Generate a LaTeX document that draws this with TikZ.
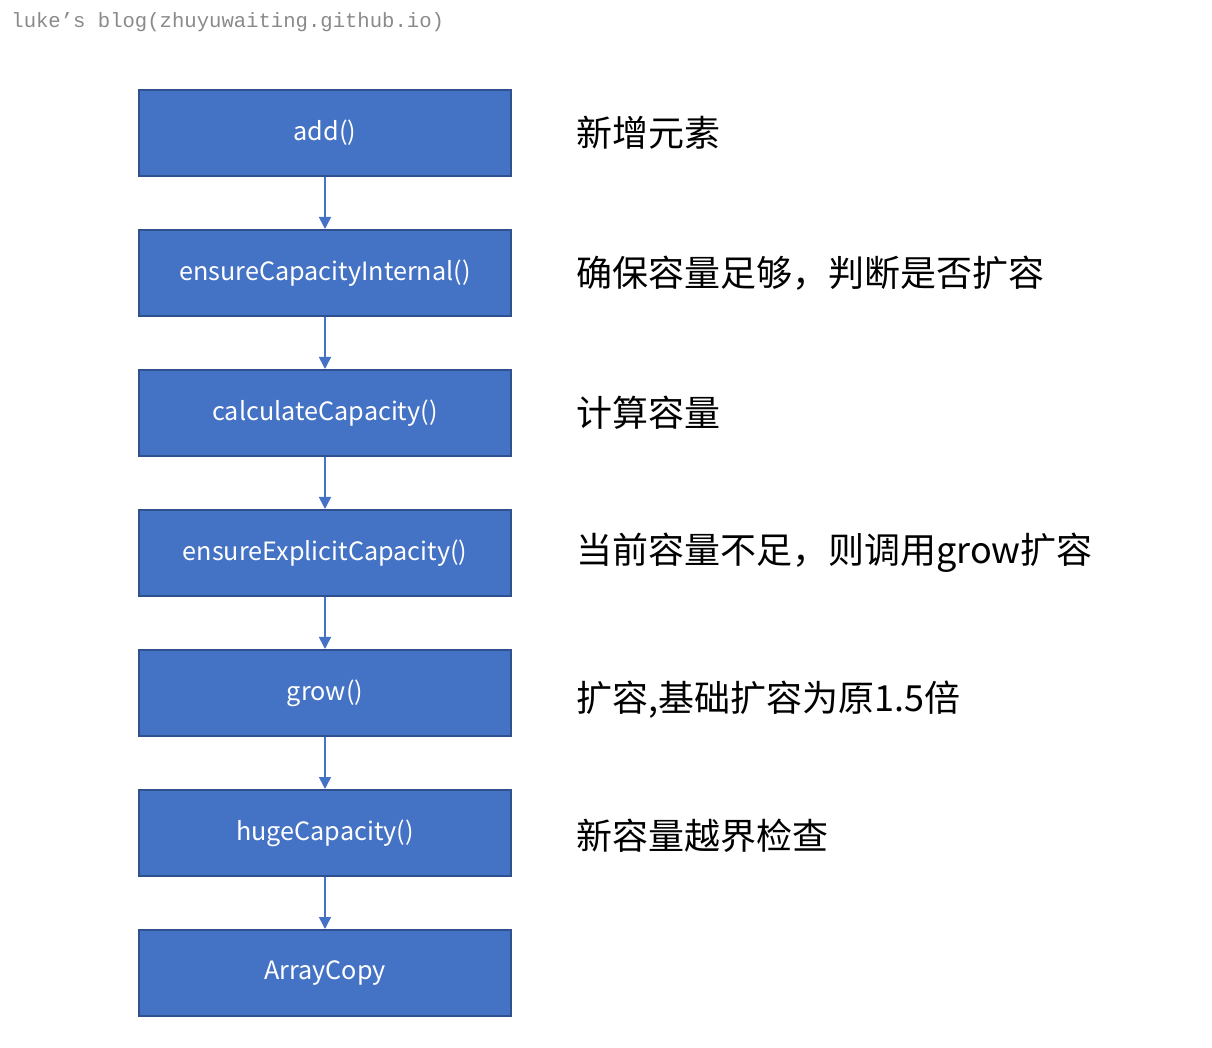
\documentclass[tikz,border=0pt]{standalone}
\usepackage{fontspec}
\setmainfont{Noto Sans CJK SC}
\newfontfamily\wmfont{Liberation Mono}
\usetikzlibrary{arrows.meta}
\definecolor{boxfill}{HTML}{4472C4}
\definecolor{boxline}{HTML}{2F528F}
\definecolor{wmgray}{HTML}{8A8A8A}
\begin{document}
\begin{tikzpicture}[x=0.5pt,y=-0.5pt,
  stepbox/.style={draw=boxline,line width=1pt,fill=boxfill,text=white,
    minimum width=186pt,minimum height=43pt,inner sep=0pt,font=\fontsize{12.6}{14}\selectfont},
  flowarrow/.style={draw=boxfill,line width=0.8pt,-{Triangle[width=6pt,length=6pt]}},
  note/.style={anchor=west,inner sep=0pt,font=\fontsize{18}{20}\selectfont}]
\useasboundingbox (0,0) rectangle (1212,1048);
\fill[white] (0,0) rectangle (1212,1048);
\node[anchor=west,inner sep=0pt,text=wmgray,font=\wmfont\fontsize{10.3}{12}\selectfont] (wm) at (11,22) {luke’s blog(zhuyuwaiting.github.io)};
\node[stepbox] (b1) at (325,133) {add()};
\node[stepbox] (b2) at (325,273) {ensureCapacityInternal()};
\node[stepbox] (b3) at (325,413) {calculateCapacity()};
\node[stepbox] (b4) at (325,553) {ensureExplicitCapacity()};
\node[stepbox] (b5) at (325,693) {grow()};
\node[stepbox] (b6) at (325,833) {hugeCapacity()};
\node[stepbox] (b7) at (325,973) {ArrayCopy};
\draw[flowarrow] (b1) -- (b2);
\draw[flowarrow] (b2) -- (b3);
\draw[flowarrow] (b3) -- (b4);
\draw[flowarrow] (b4) -- (b5);
\draw[flowarrow] (b5) -- (b6);
\draw[flowarrow] (b6) -- (b7);
\node[note] (n1) at (576,133) {新增元素};
\node[note] (n2) at (576,273) {确保容量足够，判断是否扩容};
\node[note] (n3) at (576,413) {计算容量};
\node[note] (n4) at (576,553) {当前容量不足，则调用grow扩容};
\node[note] (n5) at (576,700) {扩容,基础扩容为原1.5倍};
\node[note] (n6) at (576,836) {新容量越界检查};
\end{tikzpicture}
\end{document}
